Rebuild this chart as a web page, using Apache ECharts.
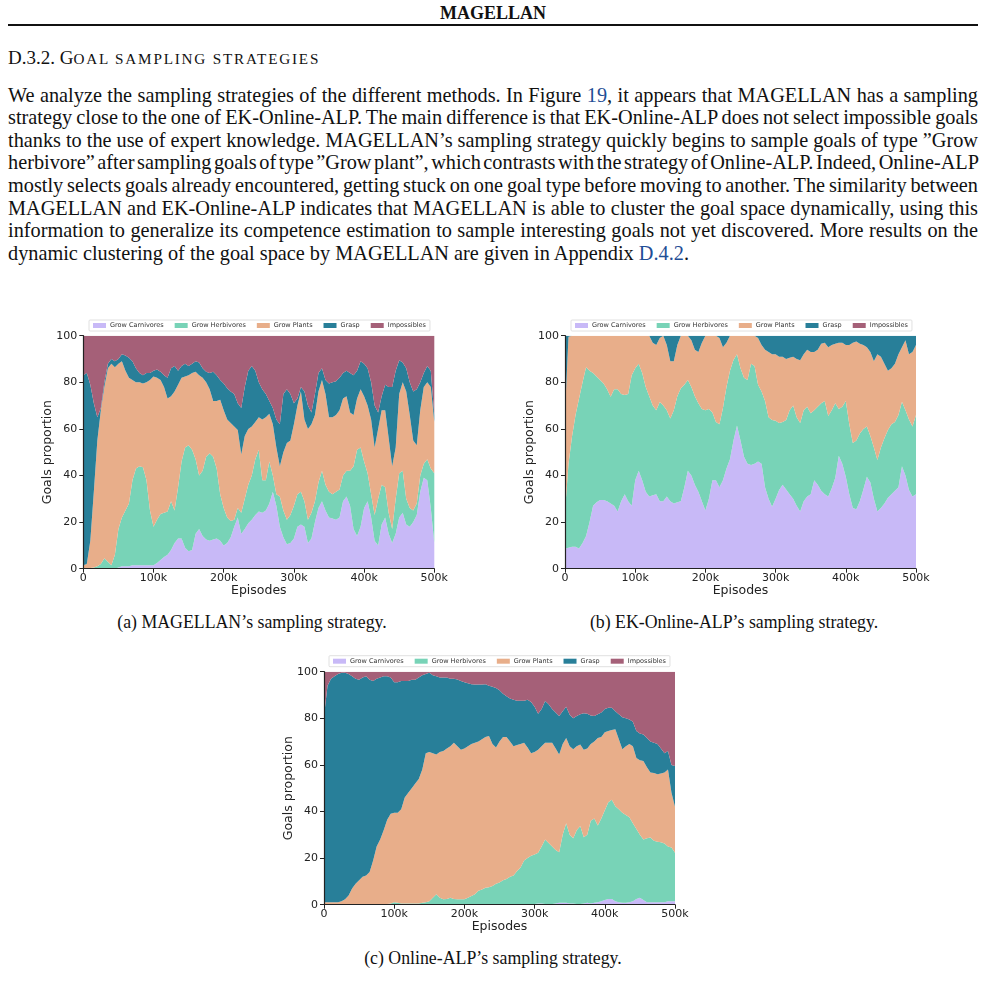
<!DOCTYPE html>
<html>
<head>
<meta charset="utf-8">
<script src="https://cdn.jsdelivr.net/npm/echarts@6.0.0/dist/echarts.min.js"></script>
<style>
  html, body { margin: 0; padding: 0; background: #fff; }
  body { width: 986px; height: 998px; position: relative; overflow: hidden;
         font-family: "Liberation Serif", "Times New Roman", serif; color: #111; }
  .abs { position: absolute; }
  #runhead { left: 0; width: 986px; top: 2px; text-align: center; font-weight: bold; font-size: 18px; line-height: 22px; }
  #rule { left: 8px; width: 970px; top: 24px; height: 2px; background: #111; }
  #sec { left: 8px; top: 46px; font-size: 19px; line-height: 24px; white-space: nowrap; }
  #sec .sc { font-size: 15.2px; letter-spacing: 1.8px; }
  #para { left: 8px; top: 83.7px; width: 970px; font-size: 20.3px; line-height: 22.6px; }
  #para div { text-align: justify; text-align-last: justify; white-space: nowrap; word-spacing: -2.5px; }
  #para div.last { text-align-last: left; word-spacing: 0; }
  .ln { color: #1f4e96; }
  .cap { font-size: 17.8px; line-height: 20px; text-align: center; width: 400px; }
  .chart { width: 470px; height: 300px; }
</style>
</head>
<body>
<div class="abs" id="runhead">MAGELLAN</div>
<div class="abs" id="rule"></div>
<div class="abs" id="sec">D.3.2. G<span class="sc">OAL SAMPLING STRATEGIES</span></div>
<div class="abs" id="para">
  <div>We analyze the sampling strategies of the different methods. In Figure <span class="ln">19</span>, it appears that MAGELLAN has a sampling</div>
  <div>strategy close to the one of EK-Online-ALP. The main difference is that EK-Online-ALP does not select impossible goals</div>
  <div>thanks to the use of expert knowledge. MAGELLAN’s sampling strategy quickly begins to sample goals of type ”Grow</div>
  <div>herbivore” after sampling goals of type ”Grow plant”, which contrasts with the strategy of Online-ALP. Indeed, Online-ALP</div>
  <div>mostly selects goals already encountered, getting stuck on one goal type before moving to another. The similarity between</div>
  <div>MAGELLAN and EK-Online-ALP indicates that MAGELLAN is able to cluster the goal space dynamically, using this</div>
  <div>information to generalize its competence estimation to sample interesting goals not yet discovered. More results on the</div>
  <div class="last">dynamic clustering of the goal space by MAGELLAN are given in Appendix <span class="ln">D.4.2</span>.</div>
</div>

<div class="abs chart" id="chartA" style="left:0;top:310px;"></div>
<div class="abs chart" id="chartB" style="left:490px;top:310px;"></div>
<div class="abs chart" id="chartC" style="left:240px;top:645px;"></div>

<div class="abs cap" style="left:52px;top:611.5px;">(a) MAGELLAN’s sampling strategy.</div>
<div class="abs cap" style="left:534px;top:611.5px;">(b) EK-Online-ALP’s sampling strategy.</div>
<div class="abs cap" style="left:293px;top:948px;">(c) Online-ALP’s sampling strategy.</div>

<script>
// episodes (in thousands), one sample every 5k
const episodes = [0,5,10,15,20,25,30,35,40,45,50,55,60,65,70,75,80,85,90,95,
  100,105,110,115,120,125,130,135,140,145,150,155,160,165,170,175,180,185,190,195,
  200,205,210,215,220,225,230,235,240,245,250,255,260,265,270,275,280,285,290,295,
  300,305,310,315,320,325,330,335,340,345,350,355,360,365,370,375,380,385,390,395,
  400,405,410,415,420,425,430,435,440,445,450,455,460,465,470,475,480,485,490,495,500];

const goalTypes = ['Grow Carnivores', 'Grow Herbivores', 'Grow Plants', 'Grasp', 'Impossibles'];
const colors = ['#c8b9f7', '#78d3b7', '#e8ae8a', '#287f99', '#a56078'];
const yTicks = [0, 20, 40, 60, 80, 100];

// (a) MAGELLAN - proportion (%) of each goal type
const magCarn = [0,0,0,0,0,0,0,0,0,0,
  0.5,1,1,1,1.5,1.5,1.5,1.5,1.5,1.5,
  1.5,2.5,3.7,5,6,8,11,13,13,9,
  7.5,8,15,17,14,12.5,12,12.5,13,12,
  10,11,13.5,18,22,15,17,19.5,21,23,
  24.5,24,25,28,33,27,18,13.5,10.5,11,
  13,18,19,18,11,13,20,26,29,25,
  22,21.5,21,22,29,31,27,17,14,18,
  26,29,22,12,10,19,22,15,11,15,
  22,24,19,18,20,23,33,39,38,26,
  11];
const magHerb = [0,0,0.3,0.5,1,2,4.5,3,1.5,6,
  16.5,21,24,27,36.5,41.5,42.5,42,36.5,23.5,
  16.5,18.5,19.8,19,18.5,21,14,22,33,43,
  45.5,43,32,23,28,35.5,37.5,35.5,30,20,
  16,11,7,3,4,9,13,16.5,19,24,
  26.5,14,13,18,7,5,13,11.5,10.5,12,
  14,14,14,11,10,11,9,11,13,11,
  11,10.5,12,12,11,11,15,27,37,34,
  20,12,10,11,20,17,13,9,6,15,
  19,18,11,8,5,5,7,6,9,17,
  30];
const magPlant = [1.5,2,11.7,32.5,54,66,73.5,83,86.5,80.5,
  71,67,60,54,43,37,36,36,42,56,
  64.5,61,57.5,54,48.5,45,51,44,36,30.5,
  30,33,37.5,43,40,32,27.5,24,29,40.5,
  42,42,42,40,33.5,25,27,24,21,16,
  14,26,27,20.5,22,20,13,25,33,32,
  35,38,43,35,39,38,37,39,39,39,
  32,33,33,34,33,32,25,22,22,25,
  28,29,32,29,30,32,33,32,27,22,
  34,38,46,40,30,25,28,33,33,35,
  22];
const magGrasp = [81.5,82,67,38,10,1,2,2,2,2.5,
  2,3,6.5,8.5,8,6,4,3.5,4,3,
  2.5,3.5,3.5,5,9,12,11,6,5,5.5,
  4,4,4.5,5.5,4,4.5,7,12.5,11,8.5,
  11.5,13.5,13.5,14,11.5,20,21,25,26,22,
  15,13,10,5.5,7,12,18,25,23,20,
  9,3,2,12,10,5,9,8,5,6,
  14.5,15,14.5,14,11,11,17,17,12,12,
  14,16,16,18,7,6,11,22,34,33,
  14.5,8.5,10,14,21,24,12,6,7,7,
  3];
const magImp = [17,16,21,29,35,31,20,12,10,11,
  10,8,8.5,9.5,11,14,16,17,16,16,
  15,14.5,15.5,17,18,14,13,15,13,12,
  13,12,11,11.5,14,15.5,16,15.5,17,19,
  20.5,22.5,24,25,29,31,22,15,13,15,
  20,23,25,28,31,36,38,25,23,25,
  29,27,22,24,30,33,25,16,14,19,
  20.5,20,19.5,18,16,15,16,17,15,11,
  12,14,20,30,33,26,21,22,22,15,
  10.5,11.5,14,20,24,23,20,16,13,15,
  34];

// (b) EK-Online-ALP
const ekCarn = [8.7,9,9.4,9.4,8.7,11,14,20,27,28.5,
  29.5,29.5,29,28,27,24.5,29,32,29,27,
  38,42,38,33,31,31.5,32,29,29,31,
  29,28,28.5,29,35,42,40,36,33,29,
  25,30,38,38,35,38,43,47,55,61.5,
  55,48,45,44.5,45,46,45,35,30,26.6,
  30,33.8,36,34,32,30,27,24.5,29,31,
  32,38,36,33.5,32,31,34.5,39,48.5,45,
  39.5,32,26,25.5,29,34,39.5,37,30,24.5,
  26,28,30.5,32,33.5,35,44,40,33.8,31,
  32];
const ekHerb = [15.8,36,47.3,56.6,64.3,69,72.5,65,57,54,
  51.5,50,48,45.8,50,52.5,46,42.5,46,56,
  48,46,46,45,43,38.5,36,42.5,41,37,
  35.5,40,45.5,48.4,44,39,38,38,38,39.5,
  43,38.5,29,25,27,31,35,38,34.6,30.5,
  31,34,36,43.5,42,33,31,37,35,37.2,
  33.5,28.7,27,29.8,36,40,38,38,39,38.5,
  34.7,30,33.5,37.5,40,34.5,33.5,32,20,24.5,
  32.5,30,28,29.5,29,26,21.5,20,22,22.1,
  26,28,29,30,29.5,31,27.7,28,30.2,30,
  34];
const ekPlant = [42.5,54.5,43.3,34,27,20,13.5,15,16,17.5,
  19,20.5,23,26.2,23,23,25,25.5,25,17,
  14,12,16,22,26,27,28,27.5,30,28,
  24.5,21,22,22.6,21,19,20,20,22,28.5,
  32,31.5,33,37,37,26,19,15,10.4,8,
  14,18,19,12,13,20,20,22,28,28.2,
  28.5,28.5,28,26.2,22.5,21,25,27,24,24.5,
  26.3,25,24.5,25.5,25,29.5,28,25.5,28.5,27.5,
  24,34,43,42.5,38.5,36,34,36,37,45.4,
  39,32,25.5,24,25,26,23.3,30,28,32,
  30];
const ekGrasp = [33,0.5,0,0,0,0,0,0,0,0,
  0,0,0,0,0,0,0,0,0,0,
  0,0,0,0,0,3,4,1,0,4,
  11,11,4,0,0,0,2,6,7,3,
  0,0,0,0,1,5,3,0,0,0,
  0,0,0,0,0,1,4,6,7,8,
  8,9,9,10,9.5,9,10,10.5,8,6,
  7,7,6,3.5,3,5,4,3.5,3,3,
  4,4,3,2.5,3.5,4,5,7,11,8,
  9,12,15,14,12,8,5,2,8,7,
  4];
const ekImp = [0,0,0,0,0,0,0,0,0,0,
  0,0,0,0,0,0,0,0,0,0,
  0,0,0,0,0,0,0,0,0,0,
  0,0,0,0,0,0,0,0,0,0,
  0,0,0,0,0,0,0,0,0,0,
  0,0,0,0,0,0,0,0,0,0,
  0,0,0,0,0,0,0,0,0,0,
  0,0,0,0,0,0,0,0,0,0,
  0,0,0,0,0,0,0,0,0,0,
  0,0,0,0,0,0,0,0,0,0,
  0];

// (c) Online-ALP
const olCarn = [0,0,0,0,0,0,0,0,0,0,
  0,0,0,0,0,0,0,0,0,0,
  0,0,0,0,0,0,0,0,0,0,
  0,0,0,0,0,0,0,0,0,0,
  0,0,0,0,0,0,0,0,0.2,0.2,
  0.2,0.2,0.2,0.2,0.2,0.2,0.2,0.2,0.2,0.2,
  0.3,0.5,0.5,0.3,0.3,0.3,0.5,0.8,0.8,0.8,
  0.5,0.5,0.3,0.3,0.5,0.8,0.5,0.8,1,1.5,
  2,2.5,2.5,1.5,1,0.8,0.8,1,1.5,2.5,
  3,2,1,1,1,1,1,1,1.5,1.5,
  1.5];
const olHerb = [0,0,0,0,0,0,0,0,0,0.3,
  0.3,0.3,0.3,0.3,0.3,0.3,0.3,0.3,0.3,0.5,
  1,0.8,0.5,0.5,0.5,0.5,0.5,0.5,0.8,1,
  1.5,3,4.5,3,2.3,2.5,3,2.5,2.3,2.3,
  2.3,3,3.7,4.5,6,6.5,7.3,7.5,7.8,8.8,
  9.3,10.3,10.8,11.8,12.3,14.3,15.8,18.8,19.8,20.8,
  21.2,21.8,24.5,27.7,26.2,24.7,23,21.7,29.2,34.2,
  29.5,28,31.7,33.5,28.5,29.2,35.5,36.2,33,35.5,
  38.5,41.5,42.5,40.8,40,38.7,37.7,36.5,33.5,30,
  27,26,27.5,27.8,26.5,26,25.8,25.3,23.5,23,
  20.8];
const olPlant = [1,1,1,1,1,1.5,2.3,4,7,8.7,
  10.2,11.7,12.2,13.7,18.7,24.7,27.7,31.7,36.2,38.5,
  38.5,38.7,40.5,45.5,47.5,49.5,51.5,53.5,57.2,64,
  64,62,60,62.5,63.7,64.5,65,67,65.7,64.2,
  64.7,65,65.3,65,64,64.5,64.7,64.9,61,58.5,
  60.5,61.5,61,58,55.5,54,53,50.5,47.5,44,
  44,44.2,43,41.5,43,44.5,43.5,42,39,36.5,
  38,38.2,36,35,37.5,37,33,33,37.5,35,
  33.5,30.5,30,33,30,27.2,29.5,31.5,33,30.5,
  32,33.7,30.5,27.9,29,29,29.5,30.4,33,23.5,
  19.7];
const olGrasp = [80,93,96,97,98,98,97.2,95,91,88,
  86,85.5,85.5,82.5,77,72,69.5,66,61.5,58.5,
  56,56,55,50,48,46.5,44.5,43.5,40.5,34,
  34.1,33.5,33.5,32,31.5,30.5,29,27.5,28.7,29.5,
  28.5,27,25.6,25,24.5,23.5,22.6,21.6,24.5,25.5,
  22,18.5,17.5,18.5,20,19,18.5,18,20.5,22,
  19.5,15.5,16,17.9,16.5,14.5,15.5,16.5,14,13.5,
  13.5,13.3,13,12.9,15.7,15,12.2,11,10.2,10.5,
  10,10,9.5,7.7,10.7,13.8,12,10.5,10.5,11.5,
  11.5,11.3,12.5,13.3,13,13,10.7,8.3,8,12,
  17.5];
const olImp = [19,6,3,2,1,0.5,0.5,1,2,3,
  3.5,2.5,2,3.5,4,3,2.5,2,2,2.5,
  4.5,4.5,4,4,4,3.5,3.5,2.5,1.5,1,
  0.4,1.5,2,2.5,2.5,2.5,3,3,3.3,4,
  4.5,5,5.4,5.5,5.5,5.5,5.4,6,6.5,7,
  8,9.5,10.5,11.5,12,12.5,12.5,12.5,12,13,
  15,18,16,12.6,14,16,17.5,19,17,15,
  18.5,20,19,18.3,17.8,18,18.8,19,18.3,17.5,
  16,15.5,15.5,17,18.3,19.5,20,20.5,21.5,25.5,
  26.5,27,28.5,30,30.5,31,33,35,34,40,
  40.5];

const axisColor = '#222';

function buildOption(gridLeft, gridTop, legendLeft, legendTop, values) {
  return {
    animation: false,
    textStyle: { fontFamily: 'DejaVu Sans' },
    color: colors,
    legend: {
      data: goalTypes,
      left: legendLeft,
      top: legendTop,
      orient: 'horizontal',
      icon: 'rect',
      itemWidth: 13,
      itemHeight: 5,
      itemGap: 11,
      padding: [2, 4, 2, 4],
      backgroundColor: '#fff',
      borderColor: '#d8d8d8',
      borderWidth: 0.8,
      borderRadius: 1,
      selectedMode: false,
      textStyle: { fontSize: 6.5, color: '#333', padding: [0, 0, 0, -1] }
    },
    grid: { left: gridLeft, top: gridTop, width: 351, height: 233 },
    xAxis: {
      type: 'category',
      data: episodes,
      boundaryGap: false,
      z: 10,
      name: 'Episodes',
      nameLocation: 'middle',
      nameGap: 16,
      nameMoveOverlap: false,
      nameTextStyle: { fontSize: 12.5, color: axisColor },
      axisLine: { lineStyle: { color: axisColor, width: 1.2 } },
      axisTick: { interval: 19, length: 4, lineStyle: { color: axisColor, width: 1 } },
      axisLabel: {
        interval: 19, fontSize: 11, color: axisColor, margin: 4,
        formatter: v => (v === '0' || v === 0) ? '0' : v + 'k'
      },
      splitLine: { show: false }
    },
    yAxis: {
      type: 'value',
      min: yTicks[0],
      max: yTicks[yTicks.length - 1],
      interval: 20,
      z: 10,
      name: 'Goals proportion',
      nameLocation: 'middle',
      nameGap: 29,
      nameMoveOverlap: false,
      nameTextStyle: { fontSize: 12.5, color: axisColor },
      axisLine: { show: true, lineStyle: { color: axisColor, width: 1.2 } },
      axisTick: { show: true, length: 4, lineStyle: { color: axisColor, width: 1 } },
      axisLabel: { fontSize: 11, color: axisColor, margin: 6 },
      splitLine: { show: false }
    },
    series: goalTypes.map((name, i) => ({
      name: name,
      type: 'line',
      stack: 'total',
      data: values[i],
      symbol: 'none',
      showSymbol: false,
      silent: true,
      lineStyle: { width: 0, color: colors[i] },
      itemStyle: { color: colors[i] },
      areaStyle: { color: colors[i], opacity: 1 },
      emphasis: { disabled: true }
    }))
  };
}

const chartA = echarts.init(document.getElementById('chartA'), null, { renderer: 'canvas' });
chartA.setOption(buildOption(83.3, 25.7, 89, 10, [magCarn, magHerb, magPlant, magGrasp, magImp]));

const chartB = echarts.init(document.getElementById('chartB'), null, { renderer: 'canvas' });
chartB.setOption(buildOption(75, 25.7, 81, 10, [ekCarn, ekHerb, ekPlant, ekGrasp, ekImp]));

const chartC = echarts.init(document.getElementById('chartC'), null, { renderer: 'canvas' });
chartC.setOption(buildOption(84, 26.7, 89, 10.7, [olCarn, olHerb, olPlant, olGrasp, olImp]));
</script>
</body>
</html>
